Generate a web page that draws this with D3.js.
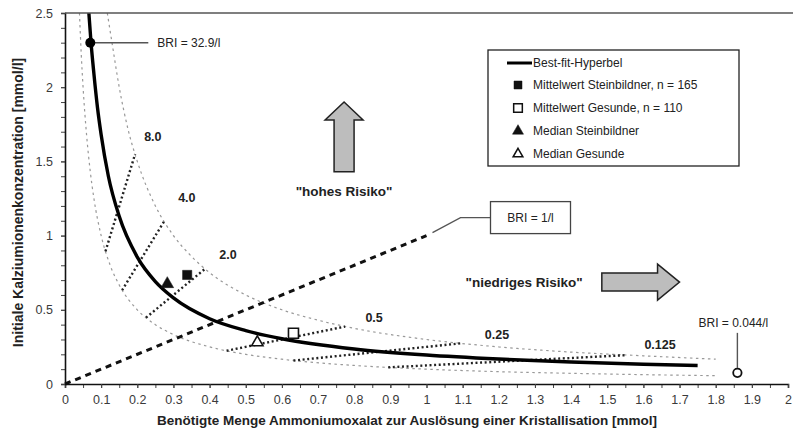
<!DOCTYPE html>
<html>
<head>
<meta charset="utf-8">
<script src="https://cdn.jsdelivr.net/npm/d3@7"></script>
<style>
  body { margin: 0; background: #fff; }
  svg { font-family: "Liberation Sans", Arial, sans-serif; }
</style>
</head>
<body>
<script>
// values

// best-fit hyperbola
const fitX = [0.066, 0.072, 0.08, 0.09, 0.1, 0.12, 0.15, 0.2, 0.25, 0.3, 0.4, 0.5, 0.6, 0.8, 1.0, 1.2, 1.4, 1.6, 1.75];
const fitY = [2.5, 2.3, 2.09, 1.86, 1.68, 1.40, 1.13, 0.855, 0.69, 0.58, 0.44, 0.36, 0.305, 0.236, 0.195, 0.168, 0.148, 0.133, 0.125];

// thin dotted bands
const upperX = [0.117, 0.13, 0.15, 0.175, 0.2, 0.25, 0.3, 0.35, 0.4, 0.5, 0.6, 0.7, 0.8, 1.0, 1.2, 1.4, 1.6, 1.8];
const upperY = [2.5, 2.3, 2.0, 1.71, 1.5, 1.2, 1.0, 0.86, 0.75, 0.6, 0.5, 0.43, 0.375, 0.3, 0.25, 0.215, 0.19, 0.167];
const lowerX = [0.04, 0.045, 0.05, 0.06, 0.07, 0.08, 0.1, 0.125, 0.15, 0.2, 0.25, 0.3, 0.4, 0.5, 0.6, 0.8, 1.0, 1.2, 1.4, 1.6, 1.8];
const lowerY = [2.5, 2.22, 2.0, 1.67, 1.43, 1.25, 1.0, 0.8, 0.667, 0.5, 0.4, 0.333, 0.25, 0.2, 0.167, 0.125, 0.1, 0.083, 0.072, 0.063, 0.056];

// iso-BRI segments between the bands
const isoLabels = ["8.0", "4.0", "2.0", "0.5", "0.25", "0.125"];
const isoStartX = [0.112, 0.158, 0.224, 0.447, 0.632, 0.894];
const isoStartY = [0.894, 0.632, 0.447, 0.224, 0.158, 0.112];
const isoEndX = [0.194, 0.274, 0.387, 0.775, 1.095, 1.55];
const isoEndY = [1.55, 1.095, 0.775, 0.387, 0.274, 0.194];
const isoLabelX = [0.243, 0.337, 0.451, 0.855, 1.195, 1.646];
const isoLabelY = [1.664, 1.253, 0.869, 0.445, 0.330, 0.263];

// BRI = 1/l line
const briOneX = [0, 1.0];
const briOneY = [0, 1.0];

// group points
const pointNames = ["Mittelwert Steinbildner, n = 165", "Mittelwert Gesunde, n = 110", "Median Steinbildner", "Median Gesunde"];
const pointX = [0.338, 0.632, 0.283, 0.532];
const pointY = [0.735, 0.342, 0.674, 0.28];

// extreme BRI values
const extremeLabels = ["BRI = 32.9/l", "BRI = 0.044/l"];
const extremeX = [0.07, 1.86];
const extremeY = [2.3, 0.075];

const xTicks = [0, 0.1, 0.2, 0.3, 0.4, 0.5, 0.6, 0.7, 0.8, 0.9, 1, 1.1, 1.2, 1.3, 1.4, 1.5, 1.6, 1.7, 1.8, 1.9, 2];
const yTicks = [0, 0.5, 1, 1.5, 2, 2.5];

// marker styles for the four group points
const symbolTypes = [d3.symbolSquare, d3.symbolSquare, d3.symbolTriangle, d3.symbolTriangle];
const symbolFilled = [true, false, true, false];
const symbolSizes = [85, 100, 70, 55];

let svg = null, plot = null;
let x, y;
let margin, width, height;

setupCanvasSize();
appendSvg("body");
setupScales();
appendAxes();
appendBands();
appendIsoLines();
appendBriOneLine();
appendFitLine();
appendPoints();
appendExtremes();
appendRiskArrows();
appendLegend();

function setupCanvasSize() {
  margin = {top: 13, left: 65, bottom: 56, right: 5};
  width = 793 - margin.left - margin.right;
  height = 440 - margin.top - margin.bottom;
}

function appendSvg(domElement) {
  svg = d3.select(domElement).append("svg")
    .attr("width", 793)
    .attr("height", 440);
  svg.append("defs").append("clipPath").attr("id", "clip")
    .append("rect").attr("x", margin.left).attr("y", margin.top)
    .attr("width", width).attr("height", height);
  plot = svg.append("g");
}

function setupScales() {
  x = d3.scaleLinear().domain([0, 2]).range([margin.left, margin.left + 723]);
  y = d3.scaleLinear().domain([0, 2.5]).range([margin.top + height, margin.top]);
}

function appendAxes() {
  // minor ticks on x every 0.05
  svg.append("g")
    .attr("transform", `translate(0, ${y(0)})`)
    .call(d3.axisBottom(x).tickValues(d3.range(0, 2.001, 0.05)).tickSize(4).tickFormat(""))
    .call(g => g.select(".domain").remove())
    .selectAll("line").attr("stroke", "#444");

  const xa = svg.append("g")
    .attr("transform", `translate(0, ${y(0)})`)
    .call(d3.axisBottom(x).tickValues(xTicks).tickSize(4).tickPadding(7).tickFormat(d3.format("")));
  xa.select(".domain").attr("stroke", "#111").attr("stroke-width", 1.6);
  xa.selectAll("line").attr("stroke", "#444");
  xa.selectAll("text").attr("font-size", 12.5).attr("fill", "#3a3a3a").attr("font-family", null);

  // minor ticks on y every 0.1
  svg.append("g")
    .attr("transform", `translate(${x(0)}, 0)`)
    .call(d3.axisLeft(y).tickValues(d3.range(0, 2.501, 0.1)).tickSize(4).tickFormat(""))
    .call(g => g.select(".domain").remove())
    .selectAll("line").attr("stroke", "#444");

  const ya = svg.append("g")
    .attr("transform", `translate(${x(0)}, 0)`)
    .call(d3.axisLeft(y).tickValues(yTicks).tickSize(4).tickPadding(8).tickFormat(d3.format("")));
  ya.select(".domain").attr("stroke", "#111").attr("stroke-width", 1.6);
  ya.selectAll("line").attr("stroke", "#444");
  ya.selectAll("text").attr("font-size", 12.5).attr("fill", "#3a3a3a").attr("font-family", null);

  // top border line
  svg.append("line")
    .attr("x1", x(0)).attr("x2", 793)
    .attr("y1", y(2.5)).attr("y2", y(2.5))
    .attr("stroke", "#555").attr("stroke-width", 1.5);

  svg.append("text")
    .attr("x", 407).attr("y", 425)
    .attr("text-anchor", "middle")
    .attr("font-size", 13.5).attr("font-weight", "bold").attr("fill", "#222")
    .text("Benötigte Menge Ammoniumoxalat zur Auslösung einer Kristallisation [mmol]");

  svg.append("text")
    .attr("transform", `translate(23, ${y(1.25) + 4}) rotate(-90)`)
    .attr("text-anchor", "middle")
    .attr("font-size", 14).attr("font-weight", "bold").attr("fill", "#222")
    .text("Initiale Kalziumionenkonzentration [mmol/l]");
}

function curveLine(xs, ys) {
  return d3.line()
    .x((d, i) => x(xs[i]))
    .y((d, i) => y(ys[i]))
    .curve(d3.curveMonotoneX)(xs);
}

function appendBands() {
  const g = plot.append("g").attr("clip-path", "url(#clip)");
  [[upperX, upperY], [lowerX, lowerY]].forEach(([xs, ys]) => {
    g.append("path")
      .attr("d", curveLine(xs, ys))
      .attr("fill", "none")
      .attr("stroke", "#999")
      .attr("stroke-width", 1.2)
      .attr("stroke-dasharray", "2.5,3.5");
  });
}

function appendIsoLines() {
  const g = plot.append("g");
  isoLabels.forEach((lab, i) => {
    g.append("line")
      .attr("x1", x(isoStartX[i])).attr("y1", y(isoStartY[i]))
      .attr("x2", x(isoEndX[i])).attr("y2", y(isoEndY[i]))
      .attr("stroke", "#222")
      .attr("stroke-width", 2.4)
      .attr("stroke-dasharray", "2,2.6");
    g.append("text")
      .attr("x", x(isoLabelX[i])).attr("y", y(isoLabelY[i]))
      .attr("text-anchor", "middle")
      .attr("dominant-baseline", "central")
      .attr("font-size", 12.5).attr("font-weight", "bold").attr("fill", "#222")
      .text(lab);
  });
}

function appendBriOneLine() {
  plot.append("path")
    .attr("d", d3.line().x((d, i) => x(briOneX[i])).y((d, i) => y(briOneY[i]))(briOneX))
    .attr("stroke", "#111")
    .attr("stroke-width", 3)
    .attr("stroke-dasharray", "6,5");

  // leader to the label box
  const ex = x(briOneX[1]) + 6, ey = y(briOneY[1]) - 3;
  plot.append("polyline")
    .attr("points", `${ex},${ey} ${ex + 28},${ey - 15} ${ex + 58},${ey - 15}`)
    .attr("fill", "none").attr("stroke", "#555").attr("stroke-width", 1.3);
  plot.append("rect")
    .attr("x", ex + 58).attr("y", ey - 31)
    .attr("width", 80).attr("height", 32)
    .attr("fill", "#fff").attr("stroke", "#444").attr("stroke-width", 1.3);
  plot.append("text")
    .attr("x", ex + 98).attr("y", ey - 15)
    .attr("text-anchor", "middle").attr("dominant-baseline", "central")
    .attr("font-size", 12).attr("fill", "#222")
    .text("BRI = 1/l");
}

function appendFitLine() {
  plot.append("path")
    .attr("clip-path", "url(#clip)")
    .attr("d", curveLine(fitX, fitY))
    .attr("fill", "none")
    .attr("stroke", "#000")
    .attr("stroke-width", 3.4);
}

function symbolPath(i) {
  return d3.symbol().type(symbolTypes[i]).size(symbolSizes[i])();
}

function appendPoints() {
  pointNames.forEach((name, i) => {
    plot.append("path")
      .attr("transform", `translate(${x(pointX[i])}, ${y(pointY[i])})`)
      .attr("d", symbolPath(i))
      .attr("fill", symbolFilled[i] ? "#111" : "#fff")
      .attr("stroke", "#111")
      .attr("stroke-width", symbolFilled[i] ? 0.5 : 1.6);
  });
}

function appendExtremes() {
  // high extreme: filled dot with horizontal leader
  const hx = x(extremeX[0]), hy = y(extremeY[0]);
  plot.append("line")
    .attr("x1", hx).attr("x2", hx + 58).attr("y1", hy).attr("y2", hy)
    .attr("stroke", "#555").attr("stroke-width", 1.4);
  plot.append("circle")
    .attr("cx", hx).attr("cy", hy).attr("r", 5)
    .attr("fill", "#000");
  plot.append("text")
    .attr("x", hx + 67).attr("y", hy)
    .attr("dominant-baseline", "central")
    .attr("font-size", 12).attr("fill", "#222")
    .text(extremeLabels[0]);

  // low extreme: open circle with vertical leader
  const lx = x(extremeX[1]), ly = y(extremeY[1]);
  plot.append("line")
    .attr("x1", lx).attr("x2", lx).attr("y1", ly - 5).attr("y2", ly - 40)
    .attr("stroke", "#555").attr("stroke-width", 1.4);
  plot.append("circle")
    .attr("cx", lx).attr("cy", ly).attr("r", 4.2)
    .attr("fill", "#fff").attr("stroke", "#111").attr("stroke-width", 1.8);
  plot.append("text")
    .attr("x", lx - 4).attr("y", ly - 50)
    .attr("text-anchor", "middle")
    .attr("dominant-baseline", "central")
    .attr("font-size", 12).attr("fill", "#222")
    .text(extremeLabels[1]);
}

function appendRiskArrows() {
  // up arrow, "hohes Risiko"
  const ux = x(0.772), uTop = y(1.90), uBot = y(1.43);
  plot.append("path")
    .attr("d", `M${ux},${uTop} L${ux + 19},${uTop + 18} L${ux + 10},${uTop + 18} L${ux + 10},${uBot} L${ux - 10},${uBot} L${ux - 10},${uTop + 18} L${ux - 19},${uTop + 18} Z`)
    .attr("fill", "#bdbdbd").attr("stroke", "#222").attr("stroke-width", 1.5)
    .attr("stroke-linejoin", "miter");
  plot.append("text")
    .attr("x", ux).attr("y", y(1.30))
    .attr("text-anchor", "middle").attr("dominant-baseline", "central")
    .attr("font-size", 13.5).attr("font-weight", "bold").attr("fill", "#222")
    .text("\"hohes Risiko\"");

  // right arrow, "niedriges Risiko"
  const rx = x(1.485), rTip = x(1.70), ry = y(0.687);
  plot.append("path")
    .attr("d", `M${rTip},${ry} L${rTip - 22},${ry - 18} L${rTip - 22},${ry - 9} L${rx},${ry - 9} L${rx},${ry + 9} L${rTip - 22},${ry + 9} L${rTip - 22},${ry + 18} Z`)
    .attr("fill", "#bdbdbd").attr("stroke", "#222").attr("stroke-width", 1.5);
  plot.append("text")
    .attr("x", x(1.27)).attr("y", ry)
    .attr("text-anchor", "middle").attr("dominant-baseline", "central")
    .attr("font-size", 13.5).attr("font-weight", "bold").attr("fill", "#222")
    .text("\"niedriges Risiko\"");
}

function appendLegend() {
  const lg = svg.append("g").attr("transform", "translate(488, 50)");
  lg.append("rect")
    .attr("width", 251).attr("height", 116)
    .attr("fill", "#fff").attr("stroke", "#222").attr("stroke-width", 1.3);

  lg.append("line")
    .attr("x1", 19).attr("x2", 44).attr("y1", 13).attr("y2", 13)
    .attr("stroke", "#000").attr("stroke-width", 3);
  lg.append("text")
    .attr("x", 45).attr("y", 13)
    .attr("dominant-baseline", "central")
    .attr("font-size", 12).attr("fill", "#222")
    .text("Best-fit-Hyperbel");

  pointNames.forEach((name, i) => {
    const cy = 35 + i * 23;
    lg.append("path")
      .attr("transform", `translate(30, ${cy})`)
      .attr("d", d3.symbol().type(symbolTypes[i]).size(symbolSizes[i] * 0.75)())
      .attr("fill", symbolFilled[i] ? "#111" : "#fff")
      .attr("stroke", "#111")
      .attr("stroke-width", symbolFilled[i] ? 0.5 : 1.5);
    lg.append("text")
      .attr("x", 45).attr("y", cy)
      .attr("dominant-baseline", "central")
      .attr("font-size", 12).attr("fill", "#222")
      .text(name);
  });
}
</script>
</body>
</html>
